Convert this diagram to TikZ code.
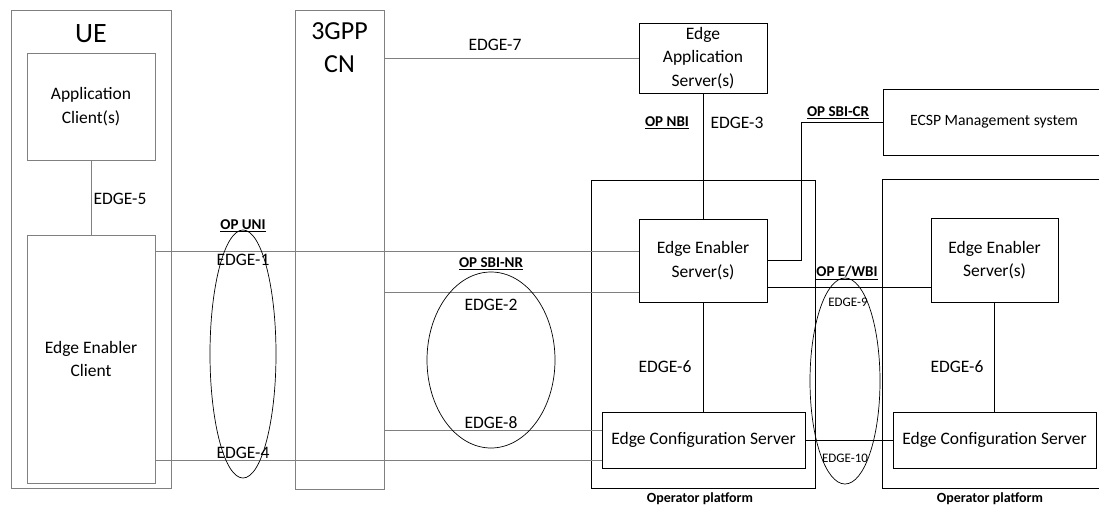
\documentclass[tikz,border=0pt]{standalone}
\usepackage{fontspec}
\setmainfont{Carlito}
\usetikzlibrary{positioning,calc,shapes.geometric}

\begin{document}
\begin{tikzpicture}[x=1pt,y=-1pt,font=\fontsize{17.5}{23.5}\selectfont,
  box/.style={draw,line width=0.9pt,inner sep=0pt,align=center},
  gbox/.style={box,draw=gray},
  link/.style={draw=gray,line width=1pt},
  blink/.style={draw=black,line width=0.9pt},
  ring/.style={draw,ellipse,line width=0.7pt,inner sep=0pt},
  oplbl/.style={font=\fontsize{15}{17}\selectfont\bfseries},
  small/.style={font=\fontsize{13}{15}\selectfont},
  plat/.style={font=\fontsize{14}{16}\selectfont\bfseries}]
\useasboundingbox (0,0) rectangle (1099,509);
\clip (0,0) rectangle (1099,509);
% UE and core network
\node[gbox,minimum width=160pt,minimum height=478pt] (ue) at (91,249) {};
\node[font=\fontsize{28}{30}\selectfont] (ueT) at (91,34) {UE};
\node[gbox,minimum width=128pt,minimum height=107pt] (ac) at (91,106.5) {Application\\Client(s)};
\node[gbox,minimum width=128pt,minimum height=248pt] (eec) at (91,359) {Edge Enabler\\Client};
\node[gbox,minimum width=89pt,minimum height=479pt] (cn) at (339.5,249.5) {};
\node[font=\fontsize{26}{33}\selectfont,align=center] (cnT) at (339.5,48) {3GPP\\CN};
% operator platforms
\node[box,minimum width=224pt,minimum height=308pt] (op1) at (703,334) {};
\node[box,minimum width=128pt,minimum height=70pt] (eas) at (703,58) {Edge\\Application\\Server(s)};
\node[box,minimum width=128pt,minimum height=83pt] (ees1) at (703,260.5) {Edge Enabler\\Server(s)};
\node[box,minimum width=203pt,minimum height=56pt] (ecs1) at (703.5,440) {Edge Configuration Server};
\node[box,minimum width=222pt,minimum height=66pt,font=\fontsize{15.7}{18}\selectfont] (ecsp) at (994,122) {ECSP Management system};
\node[box,minimum width=228pt,minimum height=309pt] (op2) at (996,333.5) {};
\node[box,minimum width=127pt,minimum height=84pt] (ees2) at (994.5,260) {Edge Enabler\\Server(s)};
\node[box,minimum width=203pt,minimum height=56pt] (ecs2) at (994.5,440) {Edge Configuration Server};
\node[plat] (op1T) at (700,499) {Operator platform};
\node[plat] (op2T) at (990,499) {Operator platform};
% reference points
\coordinate (e1) at ([yshift=9.5pt]ees1.west);
\coordinate (e2) at ([yshift=-31.5pt]ees1.west);
\coordinate (e8) at ([yshift=10pt]ecs1.west);
\coordinate (e4) at ([yshift=-20pt]ecs1.west);
\coordinate (e9) at ([yshift=-26.5pt]ees1.east);
% gray interfaces
\draw[link] (ac) -- (eec);
\draw[link] (eec.east |- e1) -- (e1);
\draw[link] (eec.east |- e4) -- (e4);
\draw[link] (cn.east |- eas.west) -- (eas.west);
\draw[link] (cn.east |- e2) -- (e2);
\draw[link] (cn.east |- e8) -- (e8);
% black interfaces
\draw[blink] (eas) -- (ees1);
\draw[blink] (ees1.south) -- (ees1.south |- ecs1.north);
\draw[blink] (ees2.south) -- (ees2.south |- ecs2.north);
\draw[blink] (ees1.east) -- ++(34,0) |- (ecsp.west);
\draw[blink] (e9) -- (ees2.west |- e9);
\draw[blink] (ecs1.east) -- (ecs2.west);
% groupings
\node[ring,minimum width=66pt,minimum height=248pt] (uniE) at (243,354) {};
\node[ring,minimum width=128pt,minimum height=176pt] (sbiE) at (491,360) {};
\node[ring,minimum width=70pt,minimum height=206pt] (ewbiE) at (845,381) {};
% labels
\foreach \t/\px/\py [count=\i] in {EDGE-5/120/199, EDGE-1/243/260, EDGE-4/243/453, EDGE-7/495/45, EDGE-3/737/123, EDGE-2/491/305, EDGE-8/491/423, EDGE-6/665/367, EDGE-6/957/367}
  \node (edge\i) at (\px,\py) {\t};
\foreach \t/\px/\py [count=\i] in {EDGE-9/848/302, EDGE-10/845/458}
  \node[small] (sedge\i) at (\px,\py) {\t};
\foreach \t/\px/\py [count=\i] in {OP UNI/243/226, OP SBI-NR/491/264, OP NBI/667/123, OP SBI-CR/838/113, {OP E/WBI}/847/273}
  \node[oplbl] (op\i) at (\px,\py) {\underline{\t}};
\end{tikzpicture}
\end{document}
